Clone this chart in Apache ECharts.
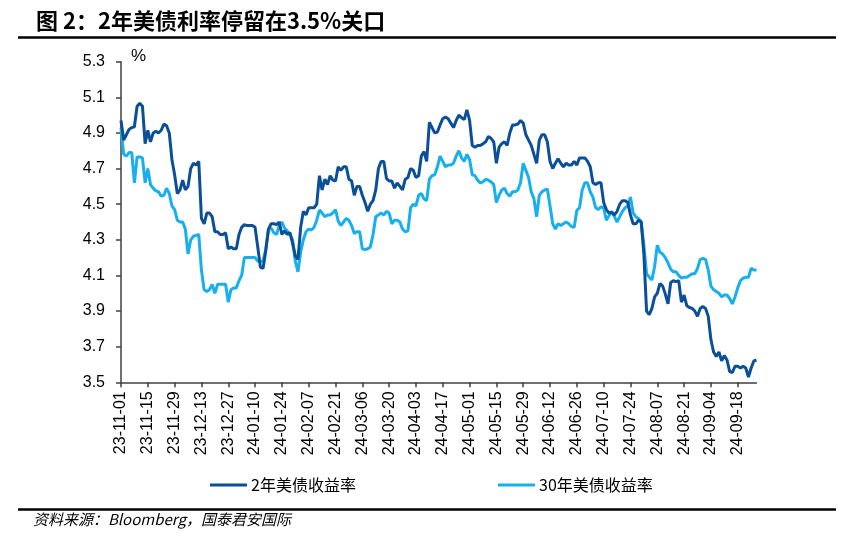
<!DOCTYPE html>
<html><head><meta charset="utf-8">
<script src="https://cdn.jsdelivr.net/npm/echarts@6/dist/echarts.min.js"></script>
<style>html,body{margin:0;padding:0;background:#fff}#c{width:850px;height:543px}</style>
</head><body><div id="c"></div>
<script>
// ---- data ----
const titleText = '图 2：2年美债利率停留在3.5%关口';
const sourceText = '资料来源：Bloomberg，国泰君安国际';
const seriesNames = ['2年美债收益率', '30年美债收益率'];
const startDate = '2023-11-01';
const endDate = '2024-09-27';
const yTicks = [3.5, 3.7, 3.9, 4.1, 4.3, 4.5, 4.7, 4.9, 5.1, 5.3];

const y2 = [
4.97,4.86,4.89,4.92,4.93,4.935,5.05,5.066,5.05,4.84,
4.915,4.85,4.90,4.91,4.90,4.915,4.95,4.94,4.90,4.75,
4.665,4.56,4.58,4.635,4.58,4.60,4.70,4.73,4.72,4.74,
4.42,4.39,4.45,4.45,4.43,4.345,4.345,4.33,4.33,4.34,
4.25,4.26,4.25,4.25,4.33,4.37,4.385,4.38,4.38,4.38,
4.37,4.26,4.145,4.14,4.24,4.36,4.39,4.39,4.385,4.40,
4.33,4.35,4.33,4.34,4.28,4.21,4.19,4.37,4.46,4.44,
4.48,4.48,4.48,4.50,4.66,4.58,4.64,4.61,4.66,4.635,
4.63,4.71,4.69,4.71,4.71,4.64,4.63,4.55,4.60,4.60,
4.55,4.51,4.46,4.50,4.52,4.58,4.70,4.74,4.74,4.645,
4.63,4.63,4.59,4.62,4.60,4.58,4.64,4.65,4.70,4.69,
4.65,4.66,4.77,4.795,4.74,4.96,4.93,4.90,4.905,4.945,
4.98,4.99,4.98,4.955,4.93,4.97,5.00,4.985,4.975,5.03,
4.97,4.83,4.82,4.83,4.83,4.84,4.85,4.88,4.87,4.85,
4.73,4.82,4.84,4.85,4.83,4.90,4.945,4.945,4.95,4.97,
4.955,4.89,4.86,4.83,4.78,4.73,4.86,4.89,4.89,4.85,
4.74,4.70,4.73,4.755,4.73,4.71,4.73,4.72,4.72,4.74,
4.72,4.76,4.76,4.76,4.74,4.71,4.62,4.61,4.62,4.62,
4.51,4.47,4.45,4.455,4.44,4.46,4.50,4.52,4.52,4.51,
4.44,4.39,4.39,4.41,4.40,4.22,3.90,3.88,3.915,3.98,
4.00,4.055,4.04,3.995,3.94,4.06,4.07,4.065,4.07,3.95,
3.99,3.93,3.92,3.915,3.90,3.87,3.915,3.925,3.915,3.87,
3.74,3.67,3.645,3.67,3.62,3.65,3.625,3.56,3.555,3.59,
3.59,3.58,3.59,3.58,3.53,3.58,3.62,3.625
];

const y30 = [
4.93,4.78,4.77,4.79,4.79,4.62,4.765,4.765,4.76,4.62,
4.70,4.61,4.59,4.575,4.57,4.545,4.55,4.59,4.56,4.49,
4.47,4.41,4.40,4.40,4.36,4.22,4.30,4.32,4.325,4.33,
4.13,4.02,4.01,4.02,4.05,4.00,4.05,4.05,4.05,4.05,
3.95,4.02,4.03,4.03,4.07,4.10,4.20,4.20,4.20,4.20,
4.20,4.18,4.18,4.18,4.25,4.36,4.365,4.34,4.33,4.38,
4.40,4.365,4.35,4.33,4.30,4.18,4.12,4.23,4.30,4.345,
4.36,4.355,4.37,4.41,4.467,4.45,4.43,4.44,4.44,4.45,
4.47,4.405,4.38,4.40,4.42,4.41,4.38,4.336,4.345,4.345,
4.25,4.246,4.25,4.26,4.33,4.43,4.44,4.45,4.44,4.46,
4.45,4.39,4.41,4.41,4.40,4.36,4.345,4.35,4.48,4.50,
4.49,4.55,4.56,4.53,4.52,4.64,4.66,4.665,4.71,4.77,
4.74,4.71,4.72,4.72,4.73,4.77,4.80,4.76,4.74,4.78,
4.75,4.665,4.66,4.635,4.62,4.625,4.64,4.635,4.625,4.61,
4.51,4.55,4.58,4.59,4.56,4.545,4.57,4.57,4.58,4.62,
4.73,4.69,4.65,4.57,4.53,4.43,4.55,4.57,4.58,4.585,
4.49,4.39,4.36,4.39,4.38,4.39,4.40,4.39,4.375,4.37,
4.465,4.48,4.58,4.62,4.62,4.57,4.54,4.48,4.47,4.485,
4.48,4.41,4.435,4.46,4.43,4.40,4.43,4.46,4.48,4.49,
4.54,4.45,4.43,4.42,4.40,4.27,4.11,4.09,4.075,4.15,
4.27,4.23,4.22,4.20,4.17,4.135,4.12,4.12,4.10,4.085,
4.09,4.09,4.10,4.11,4.11,4.14,4.19,4.195,4.19,4.13,
4.04,4.02,4.01,4.00,3.98,3.99,3.99,3.97,3.94,3.98,
4.03,4.07,4.085,4.09,4.09,4.14,4.13,4.13
];

// weekday categories (YY-MM-DD)
const categories = [];
(function () {
  const d = new Date(startDate + 'T00:00:00Z');
  const e = new Date(endDate + 'T00:00:00Z');
  while (d <= e) {
    const wd = d.getUTCDay();
    if (wd !== 0 && wd !== 6) {
      const yy = String(d.getUTCFullYear()).slice(2);
      const mm = String(d.getUTCMonth() + 1).padStart(2, '0');
      const dd = String(d.getUTCDate()).padStart(2, '0');
      categories.push(yy + '-' + mm + '-' + dd);
    }
    d.setUTCDate(d.getUTCDate() + 1);
  }
})();

// ---- chart ----
const dark = '#0b4f98';
const light = '#17afee';
const axisCol = '#404040';
const latin = 'Arial, "Liberation Sans", sans-serif';
const cjk = '"Noto Sans CJK SC", "Liberation Sans", sans-serif';

const chart = echarts.init(document.getElementById('c'), null, {renderer: 'canvas'});
chart.setOption({
  animation: false,
  backgroundColor: '#fff',
  title: {
    text: titleText, left: 31, top: 5,
    textStyle: {fontSize: 22, fontWeight: 'bold', color: '#000', fontFamily: cjk}
  },
  graphic: [
    {type: 'line', shape: {x1: 18, y1: 37.5, x2: 836, y2: 37.5}, style: {stroke: '#000', lineWidth: 2.5}},
    {type: 'line', shape: {x1: 18, y1: 509.5, x2: 836, y2: 509.5}, style: {stroke: '#000', lineWidth: 2.5}},
    {type: 'text', left: 131, top: 48, style: {text: '%', fill: '#000', font: '17px ' + latin}},
    {type: 'text', left: 33, top: 512, style: {text: sourceText, fill: '#000', font: 'italic 15px ' + cjk}}
  ],
  legend: [
    {data: [seriesNames[0]], left: 205, top: 472, icon: 'rect', itemWidth: 37, itemHeight: 3, itemGap: 4,
     textStyle: {fontSize: 16, color: '#000', fontFamily: cjk, padding: [0, 0, 0, -1]}},
    {data: [seriesNames[1]], left: 493, top: 472, icon: 'rect', itemWidth: 37, itemHeight: 3, itemGap: 4,
     textStyle: {fontSize: 16, color: '#000', fontFamily: cjk, padding: [0, 0, 0, -1]}}
  ],
  grid: {left: 121, right: 93.5, top: 61.7, bottom: 160.7, containLabel: false},
  xAxis: {
    type: 'category', data: categories, boundaryGap: false,
    axisLine: {lineStyle: {color: axisCol, width: 1.5}},
    axisTick: {interval: 9, length: 5, lineStyle: {color: axisCol, width: 1.5}},
    axisLabel: {interval: 9, rotate: 90, fontSize: 16, color: '#000', fontFamily: latin, margin: 9}
  },
  yAxis: {
    type: 'value', min: 3.5, max: 5.3,
    splitLine: {show: false},
    axisLine: {show: true, lineStyle: {color: axisCol, width: 1.5}},
    axisTick: {show: true, length: 5, customValues: yTicks, lineStyle: {color: axisCol, width: 1.5}},
    axisLabel: {customValues: yTicks, fontSize: 16, color: '#000', fontFamily: latin, margin: 16,
      formatter: v => Number(v).toFixed(1)}
  },
  series: [
    {name: seriesNames[0], type: 'line', data: y2, showSymbol: false, symbol: 'none',
     lineStyle: {color: dark, width: 3}, itemStyle: {color: dark}, z: 3},
    {name: seriesNames[1], type: 'line', data: y30, showSymbol: false, symbol: 'none',
     lineStyle: {color: light, width: 3}, itemStyle: {color: light}, z: 2}
  ]
});
</script>
</body></html>
